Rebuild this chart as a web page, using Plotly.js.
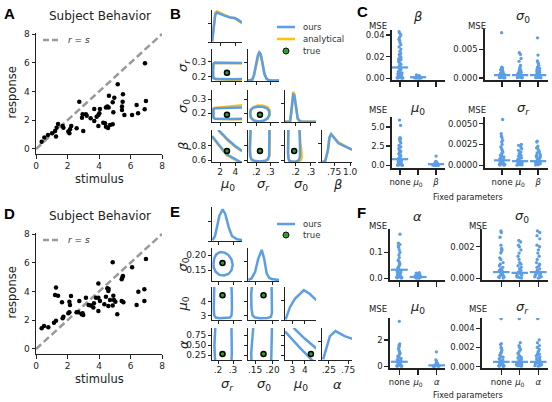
<!DOCTYPE html>
<html><head><meta charset="utf-8">
<script src="https://cdn.plot.ly/plotly-3.0.1.min.js"></script>
<style>html,body{margin:0;padding:0;background:#fff}#chart{width:552px;height:402px}</style>
</head><body><div id="chart"></div>
<script>
// ================= DATA =================
// Panel A: subject behaviour (stimulus, response)
const aStimulus=[6.92,5.19,6.98,4.63,4.97,5.52,5.50,5.46,5.46,5.61,6.10,6.48,6.39,6.90,2.75,4.53,4.61,4.44,4.87,4.91,3.70,4.06,4.02,3.96,3.85,2.96,3.17,2.92,3.22,3.47,3.70,3.96,4.27,4.38,4.44,4.57,4.70,4.87,3.00,2.58,2.24,2.16,2.05,2.12,1.74,1.69,1.40,1.31,1.21,1.27,1.02,0.76,0.53,0.36];
const aResponse=[5.96,4.50,3.34,3.71,3.57,3.81,3.29,2.95,2.71,2.37,2.37,2.48,3.06,2.76,3.29,2.95,2.88,2.88,3.25,2.55,2.78,2.78,2.48,2.37,2.25,2.41,2.41,2.18,2.32,2.13,1.95,1.60,1.83,1.79,1.55,1.46,1.67,1.72,1.25,1.44,1.60,1.37,1.21,1.09,1.48,1.60,1.74,1.48,1.25,0.86,1.09,0.97,0.79,0.51];
// Panel D
const dStimulus=[6.98,4.87,6.10,5.52,5.48,5.44,3.96,4.53,4.61,4.59,6.88,6.50,1.27,1.21,1.40,1.65,2.22,2.12,2.16,2.75,3.17,3.81,3.96,4.06,4.44,4.70,4.91,4.95,5.04,5.44,5.55,6.39,6.88,5.16,3.96,3.64,3.47,3.34,3.68,4.34,4.59,4.87,2.69,2.96,3.00,2.90,2.58,2.12,2.05,1.74,1.69,1.27,1.14,0.78,0.51,0.36];
const dResponse=[6.26,6.03,5.68,5.08,4.97,4.85,4.55,4.22,4.18,4.04,4.15,3.99,4.27,3.76,3.71,3.25,3.69,3.29,3.06,3.34,3.57,3.57,3.57,3.34,3.64,3.41,3.71,3.41,3.29,3.34,3.25,3.06,3.34,2.41,2.64,2.88,3.02,3.06,3.18,3.11,2.99,3.02,2.55,2.48,2.37,2.41,2.55,2.55,2.48,2.25,2.13,1.97,1.83,1.51,1.60,1.44];
const identityX=[0,8], identityY=[0,8];
const behaviorTicks=[0,2,4,6,8];

// Panel B: marginals (ours / analytical)
const bMuX=[0.95,1.14,1.36,1.58,2.0,2.65,3.29,3.94,4.36,4.88];
const bMuOurs=[0.02,0.38,0.88,0.95,0.9,0.84,0.79,0.77,0.71,0.63];
const bMuAnal=[0.02,0.42,0.93,0.99,0.93,0.86,0.8,0.76,0.69,0.6];
const bSrX=[0.141,0.17,0.182,0.194,0.209,0.220,0.23,0.245,0.256,0.27,0.284,0.31,0.36];
const bSrOurs=[0.02,0.04,0.18,0.45,0.81,0.92,0.86,0.52,0.24,0.08,0.03,0.02,0.02];
const bSrAnal=[0.02,0.04,0.17,0.44,0.8,0.93,0.87,0.53,0.24,0.08,0.03,0.02,0.02];
const bS0X=[0.13,0.163,0.17,0.177,0.184,0.191,0.2,0.206,0.213,0.225,0.239,0.337];
const bS0Ours=[0.01,0.02,0.25,0.6,0.88,0.86,0.5,0.25,0.12,0.04,0.01,0.01];
const bS0Anal=[0.01,0.02,0.3,0.7,0.97,0.9,0.48,0.22,0.1,0.03,0.01,0.01];
const bBetaX=[0.567,0.61,0.652,0.677,0.703,0.74,0.817,0.92,1.03];
const bBetaOurs=[0.0,0.03,0.375,0.79,0.9,0.79,0.6,0.5,0.4];
const bBetaAnal=[0.0,0.03,0.36,0.77,0.88,0.81,0.63,0.52,0.39];
// Panel B: contour levels (x, y) for ours / analytical
const bSrMuX=[4.95,3.5,2.0,1.3,1.12,1.08,1.07,1.08,1.12,1.4,2.0,3.5,4.95];
const bSrMuYOurs=[0.29,0.292,0.293,0.292,0.285,0.265,0.235,0.205,0.19,0.184,0.183,0.183,0.184];
const bSrMuYAnal=[0.288,0.291,0.292,0.291,0.284,0.265,0.235,0.205,0.19,0.184,0.182,0.18,0.179];
const bS0MuX=[4.95,3.5,2.0,1.3,1.12,1.08,1.12,1.3,2.0,3.5,4.95];
const bS0MuYOurs=[0.24,0.238,0.236,0.236,0.23,0.2,0.17,0.162,0.16,0.16,0.161];
const bS0MuYAnal=[0.256,0.25,0.24,0.237,0.231,0.2,0.17,0.162,0.16,0.159,0.158];
const bBetaMuX=[1.8,1.87,2.43,2.87,3.94,4.88,null,0.93,1.36,1.78,2.87,3.94,4.88];
const bBetaMuYOurs=[1.03,1.01,0.95,0.90,0.80,0.73,null,0.935,0.87,0.82,0.68,0.61,0.56];
const bBetaMuYAnal=[1.02,1.0,0.94,0.888,0.79,0.718,null,0.925,0.86,0.81,0.67,0.60,0.55];
const bS0SrXOurs=[0.155,0.16,0.18,0.21,0.245,0.275,0.29,0.292,0.28,0.25,0.215,0.18,0.16,0.155];
const bS0SrYOurs=[0.2,0.225,0.24,0.248,0.245,0.235,0.215,0.19,0.165,0.148,0.143,0.15,0.17,0.2];
const bS0SrXAnal=[0.155,0.16,0.18,0.21,0.248,0.28,0.295,0.294,0.28,0.25,0.215,0.18,0.16,0.155];
const bS0SrYAnal=[0.2,0.226,0.243,0.254,0.253,0.242,0.22,0.19,0.165,0.148,0.143,0.15,0.17,0.2];
const bBetaSrXOurs=[0.158,0.155,0.154,0.157,0.167,0.19,0.225,0.26,0.28,0.29,0.292,0.292];
const bBetaSrYOurs=[1.03,0.9,0.75,0.65,0.605,0.585,0.58,0.588,0.61,0.66,0.8,1.03];
const bBetaSrXAnal=[0.156,0.153,0.152,0.155,0.165,0.19,0.225,0.262,0.283,0.293,0.295,0.295];
const bBetaSrYAnal=[1.03,0.9,0.75,0.645,0.6,0.58,0.575,0.583,0.605,0.66,0.8,1.03];
const bBetaS0XOurs=[0.152,0.150,0.150,0.153,0.16,0.18,0.205,0.222,0.228,0.228,0.226,0.225];
const bBetaS0YOurs=[1.03,0.85,0.7,0.62,0.585,0.575,0.58,0.6,0.65,0.8,0.95,1.03];
const bBetaS0XAnal=[0.152,0.150,0.150,0.153,0.16,0.185,0.215,0.235,0.24,0.236,0.23,0.226];
const bBetaS0YAnal=[1.03,0.85,0.7,0.62,0.585,0.572,0.578,0.6,0.65,0.75,0.85,1.03];
const bTrueNames=['mu0','sigr','sig0','beta'];
const bTrueVals=[2.9,0.225,0.19,0.725];

// Panel E: marginals (ours)
const eSrX=[0.164,0.18,0.193,0.209,0.231,0.249,0.271,0.293,0.327,0.364];
const eSrD=[0.03,0.15,0.42,0.76,0.96,0.81,0.42,0.15,0.05,0.03];
const eS0X=[0.131,0.14,0.15,0.159,0.169,0.176,0.183,0.19,0.197,0.218];
const eS0D=[0.03,0.08,0.28,0.69,0.97,0.69,0.24,0.1,0.06,0.03];
const eMuX=[2.48,2.82,3.21,3.61,3.92,4.39,4.92];
const eMuD=[0.02,0.40,0.66,0.81,0.93,0.81,0.61];
const eAlX=[0.10,0.19,0.276,0.42,0.66,0.88];
const eAlD=[0.02,0.41,0.77,0.93,0.77,0.67];
// Panel E: contours
const eS0SrX=[0.17,0.175,0.19,0.215,0.245,0.27,0.29,0.298,0.29,0.27,0.24,0.21,0.185,0.172,0.17];
const eS0SrY=[0.17,0.19,0.203,0.21,0.208,0.2,0.185,0.168,0.15,0.138,0.133,0.135,0.145,0.158,0.17];
const eMuSrX=[0.175,0.172,0.172,0.175,0.185,0.21,0.25,0.28,0.29,0.293,0.292,0.29];
const eMuSrY=[5.1,4.5,3.5,3.0,2.85,2.8,2.8,2.85,3.0,3.5,4.5,5.1];
const eMuS0X=[0.141,0.139,0.14,0.143,0.15,0.165,0.185,0.195,0.198,0.198,0.197];
const eMuS0Y=[5.1,4.5,3.5,3.0,2.85,2.8,2.82,2.9,3.2,4.0,5.1];
const eAlSrX=[0.182,0.178,0.176,0.178,0.181,null,0.29,0.292,0.293,0.292,0.29];
const eAlSrY=[0.95,0.7,0.5,0.3,0.1,null,0.95,0.7,0.5,0.3,0.1];
const eAlS0X=[0.145,0.142,0.14,0.139,0.14,null,0.198,0.198,0.197,0.196,0.196];
const eAlS0Y=[0.95,0.7,0.5,0.3,0.1,null,0.95,0.7,0.5,0.3,0.1];
const eAlMuX=[3.1,3.21,4.0,4.92,null,2.43,2.50,3.5,4.53,4.7];
const eAlMuY=[0.95,0.90,0.66,0.41,null,0.84,0.82,0.47,0.13,0.08];
const eTrueNames=['sigr','sig0','mu0','alpha'];
const eTrueVals=[0.23,0.174,4.47,0.28];

// Panel C: MSE per fitted parameter, by fixed parameter (none, mu0, beta)
const cCategories=['none','<i>μ</i><sub>0</sub>','<i>β</i>'];
const cBetaNone=[0.043,0.0415,0.040,0.038,0.036,0.035,0.033,0.031,0.029,0.027,0.025,0.023,0.022,0.021,0.020,0.019,0.018,0.017,0.016,0.015,0.014,0.013,0.012,0.011,0.010,0.0095,0.009,0.008,0.0075,0.007,0.006,0.0055,0.005,0.0045,0.004,0.0035,0.003,0.0025,0.002,0.0018,0.0015,0.0012,0.001,0.0008,0.0005,0.0003,0.0002,0.0001];
const cBetaMu=[0.003,0.0025,0.002,0.0018,0.0015,0.0012,0.001,0.0009,0.0008,0.0007,0.0006,0.0005,0.0004,0.0003,0.0002,0.0001,0.0005,0.0008];
const cBetaBeta=[];
const cBetaMean=[0.010,0.001,null];
const cSig0None=[0.0079,0.0019,0.0018,0.0017,0.0016,0.0015,0.0014,0.0013,0.0012,0.0011,0.001,0.0009,0.0008,0.0007,0.0007,0.0006,0.0005,0.0005,0.0004,0.0004,0.0003,0.0003,0.0002,0.0002,0.00015,0.0001,0.0001,0.00005,0.00005,0.00002];
const cSig0Mu=[0.0044,0.0041,0.0034,0.0029,0.0022,0.0019,0.0016,0.0014,0.0012,0.0011,0.001,0.0009,0.0008,0.0007,0.0006,0.0005,0.0004,0.0004,0.0003,0.0003,0.0002,0.0002,0.0001,0.0001,0.00005,0.00003];
const cSig0Beta=[0.0070,0.0040,0.0030,0.0027,0.0025,0.0022,0.0019,0.0017,0.0015,0.0013,0.0011,0.001,0.0009,0.0008,0.0007,0.0006,0.0005,0.0004,0.0004,0.0003,0.0002,0.0002,0.0001,0.0001,0.00005,0.00003];
const cSig0Mean=[0.0005,0.0005,0.0005];
const cMuNone=[5.9,5.2,3.6,3.5,3.4,3.3,3.1,2.9,2.6,2.4,2.2,2.0,1.9,1.8,1.7,1.6,1.5,1.4,1.3,1.2,1.1,1.0,0.9,0.8,0.7,0.6,0.5,0.45,0.4,0.35,0.3,0.25,0.2,0.15,0.1,0.08,0.05,0.03,0.02,0.01];
const cMuMu=[];
const cMuBeta=[1.2,0.5,0.45,0.4,0.35,0.3,0.25,0.2,0.15,0.12,0.1,0.08,0.06,0.05,0.04,0.03,0.02,0.01,0.01,0.005];
const cMuMean=[0.8,null,0.15];
const cSigrNone=[0.0055,0.0038,0.0035,0.0033,0.003,0.0028,0.0025,0.0022,0.002,0.0018,0.0016,0.0015,0.0013,0.0012,0.0011,0.001,0.0009,0.0008,0.0007,0.0006,0.0005,0.0004,0.0004,0.0003,0.0003,0.0002,0.0002,0.0001,0.0001,0.00005,0.00002];
const cSigrMu=[0.0025,0.0024,0.0022,0.002,0.0018,0.0016,0.0015,0.0014,0.0012,0.0011,0.001,0.0009,0.0008,0.0007,0.0006,0.0005,0.0004,0.0004,0.0003,0.0003,0.0002,0.0002,0.0001,0.0001,0.00005,0.00002];
const cSigrBeta=[0.0029,0.0028,0.0023,0.0021,0.002,0.0018,0.0016,0.0015,0.0013,0.0012,0.0011,0.001,0.0009,0.0008,0.0007,0.0006,0.0005,0.0004,0.0004,0.0003,0.0003,0.0002,0.0002,0.0001,0.0001,0.00005];
const cSigrMean=[0.0006,0.0005,0.0005];

// Panel F: (none, mu0, alpha)
const fCategories=['none','<i>μ</i><sub>0</sub>','<i>α</i>'];
const fAlNone=[0.17,0.135,0.13,0.125,0.12,0.11,0.1,0.09,0.08,0.07,0.065,0.06,0.055,0.05,0.045,0.04,0.035,0.03,0.028,0.025,0.022,0.02,0.018,0.015,0.012,0.01,0.008,0.006,0.005,0.004,0.003,0.002,0.001];
const fAlMu=[0.022,0.02,0.018,0.015,0.012,0.01,0.009,0.008,0.007,0.006,0.005,0.004,0.003,0.002,0.001,0.0005];
const fAlAl=[];
const fAlMean=[0.033,0.005,null];
const fSig0None=[0.003,0.0029,0.0026,0.0021,0.0019,0.0018,0.0017,0.0016,0.0013,0.0012,0.001,0.0009,0.0008,0.0007,0.0006,0.0005,0.0005,0.0004,0.0003,0.0003,0.0002,0.0002,0.0001,0.0001,0.00005,0.00002];
const fSig0Mu=[0.0024,0.0023,0.0021,0.002,0.0018,0.0016,0.0014,0.0012,0.001,0.0009,0.0008,0.0007,0.0006,0.0005,0.0004,0.0004,0.0003,0.0003,0.0002,0.0002,0.0001,0.0001,0.00005,0.00002];
const fSig0Al=[0.003,0.0029,0.0027,0.0025,0.0021,0.002,0.0018,0.0016,0.0014,0.0012,0.001,0.0009,0.0008,0.0007,0.0006,0.0005,0.0004,0.0004,0.0003,0.0003,0.0002,0.0002,0.0001,0.0001,0.00005,0.00002];
const fSig0Mean=[0.0004,0.00035,0.0004];
const fMuNone=[3.4,1.7,1.6,1.5,1.35,1.2,1.1,1.0,0.9,0.8,0.75,0.7,0.6,0.55,0.5,0.45,0.4,0.35,0.3,0.25,0.2,0.15,0.1,0.08,0.05,0.03,0.02,0.01];
const fMuMu=[];
const fMuAl=[1.1,0.5,0.4,0.3,0.25,0.2,0.15,0.12,0.1,0.08,0.06,0.05,0.04,0.03,0.02,0.01,0.005];
const fMuMean=[0.35,null,0.08];
const fSigrNone=[0.005,0.0024,0.0023,0.002,0.0019,0.0017,0.0015,0.0014,0.0012,0.0011,0.001,0.0009,0.0008,0.0007,0.0006,0.0005,0.0004,0.0004,0.0003,0.0003,0.0002,0.0002,0.0001,0.0001,0.00005,0.00002];
const fSigrMu=[0.005,0.0025,0.0022,0.002,0.0018,0.0016,0.0014,0.0012,0.0011,0.001,0.0009,0.0008,0.0007,0.0006,0.0005,0.0004,0.0004,0.0003,0.0003,0.0002,0.0002,0.0001,0.0001,0.00005];
const fSigrAl=[0.005,0.0028,0.0025,0.0022,0.002,0.0018,0.0016,0.0014,0.0013,0.0012,0.0011,0.001,0.0009,0.0008,0.0007,0.0006,0.0005,0.0004,0.0004,0.0003,0.0003,0.0002,0.0002,0.0001,0.0001,0.00005];
const fSigrMean=[0.0005,0.0005,0.0005];

// ================= BUILD =================
const W=552,H=402;
const FONT='"DejaVu Sans", sans-serif';
const BLUE='#5c9ee6', YELLOW='#ffc20a', GREEN='#2ca02c';
const traces=[];
const layout={width:W,height:H,margin:{l:0,r:0,t:0,b:0,pad:0},paper_bgcolor:'#fff',plot_bgcolor:'rgba(0,0,0,0)',
  showlegend:false,font:{family:FONT,size:9,color:'#222'},annotations:[],shapes:[],hovermode:false};
let nAx=0;
function sub(box,xr,yr,xo,yo){
  nAx++;
  const s=nAx===1?'':String(nAx);
  const base={showline:true,linecolor:'#222',linewidth:1,ticks:'outside',ticklen:3.5,tickwidth:1,tickcolor:'#222',tickangle:0,
    showgrid:false,zeroline:false,tickfont:{size:9,color:'#222',family:FONT},fixedrange:true,tickmode:'array'};
  layout['xaxis'+s]=Object.assign({},base,{domain:[box[0]/W,box[1]/W],range:xr,anchor:'y'+s},xo||{});
  layout['yaxis'+s]=Object.assign({},base,{domain:[1-box[3]/H,1-box[2]/H],range:yr,anchor:'x'+s},yo||{});
  return {xaxis:'x'+s,yaxis:'y'+s};
}
function ann(text,px,py,o){
  layout.annotations.push(Object.assign({text:text,xref:'paper',yref:'paper',x:px/W,y:1-py/H,xanchor:'center',yanchor:'middle',
    showarrow:false,font:{family:FONT,size:11,color:'#222'}},o||{}));
}
function line(ref,x,y,color,width,dash){
  traces.push(Object.assign({type:'scatter',mode:'lines',x:x,y:y,line:{color:color,width:width,dash:dash||'solid'},hoverinfo:'skip',showlegend:false},ref));
}
function dot(ref,x,y){
  traces.push(Object.assign({type:'scatter',mode:'markers',x:[x],y:[y],marker:{color:GREEN,size:5,line:{color:'#000',width:1.5}},hoverinfo:'skip',showlegend:false},ref));
}

// ---- Panels A & D ----
function behavior(dy,stim,resp,letter){
  const ref=sub([36,162,33+dy,154+dy],[0,8],[-0.35,8.07],{tickvals:behaviorTicks},{tickvals:behaviorTicks});
  line(ref,identityX,identityY,'#999',2.5,'7px,3.5px');
  traces.push(Object.assign({type:'scatter',mode:'markers',x:stim,y:resp,marker:{color:'#000',size:4.5},hoverinfo:'skip',showlegend:false},ref));
  ann('Subject Behavior',100,16+dy,{font:{family:FONT,size:12,color:'#222'}});
  ann('response',11.5,93+dy,{textangle:-90,font:{family:FONT,size:11.5,color:'#222'}});
  ann('stimulus',99,179+dy,{font:{family:FONT,size:11.5,color:'#222'}});
  ann('<b>'+letter+'</b>',9,13+dy,{font:{family:'"Liberation Sans", Arial, sans-serif',size:15,color:'#000'}});
  layout.shapes.push({type:'line',xref:'paper',yref:'paper',x0:43/W,x1:61/W,y0:1-(40+dy)/H,y1:1-(40+dy)/H,line:{color:'#999',width:2.5,dash:'6px,3px'}});
  ann('<i>r</i> = <i>s</i>',66,40+dy,{xanchor:'left',font:{family:FONT,size:9,color:'#333'}});
}
behavior(0,aStimulus,aResponse,'A');
behavior(200,dStimulus,dResponse,'D');

// ---- Corner plots B & E ----
const colX=[[212,242],[248,279],[285,316],[322,352]];
function corner(rowsY,vars,diag,contours,trueNames,trueVals,showAnal){
  for(let i=0;i<4;i++){
    for(let j=0;j<=i;j++){
      const vx=vars[j], vy=vars[i];
      const box=[colX[j][0],colX[j][1],rowsY[i][0],rowsY[i][1]];
      const xo={tickvals:vx.tv,ticktext:vx.tt,showticklabels:i===3,ticklen:3,ticklabelstandoff:-2};
      let yr,yo;
      if(i===j){yr=[0,1.03];yo={tickvals:[0,0.6],showticklabels:false,ticklen:3};}
      else{yr=vy.yr;yo={tickvals:vy.ytv,ticktext:vy.ytt,showticklabels:j===0,ticklen:3};}
      const ref=sub(box,vx.xr,yr,xo,yo);
      if(i===j){
        const d=diag[i];
        if(showAnal) line(ref,d.x,d.anal,YELLOW,2.5);
        line(ref,d.x,d.ours,BLUE,2.5);
      }else{
        const c=contours[i+'-'+j];
        if(showAnal&&c.ax) line(ref,c.ax,c.ay,YELLOW,2.5);
        line(ref,c.x,c.y,BLUE,2.5);
        dot(ref,trueVals[trueNames.indexOf(vx.name)],trueVals[trueNames.indexOf(vy.name)]);
      }
    }
  }
}
const bVars=[
  {name:'mu0',xr:[0.93,4.88],tv:[2,4],tt:['2','4']},
  {name:'sigr',xr:[0.14,0.36],tv:[0.2,0.3],tt:['.2','.3'],yr:[0.171,0.382],ytv:[0.2,0.3],ytt:['0.2','0.3']},
  {name:'sig0',xr:[0.13,0.333],tv:[0.2,0.3],tt:['.2','.3'],yr:[0.139,0.363],ytv:[0.2,0.3],ytt:['0.2','0.3']},
  {name:'beta',xr:[0.56,1.03],tv:[0.75,1.0],tt:['.75','1.0'],yr:[0.572,1.02],ytv:[0.6,0.8],ytt:['0.6','0.8']}];
corner([[10,42],[49,81],[90,122],[130,162]],bVars,
  [{x:bMuX,ours:bMuOurs,anal:bMuAnal},{x:bSrX,ours:bSrOurs,anal:bSrAnal},{x:bS0X,ours:bS0Ours,anal:bS0Anal},{x:bBetaX,ours:bBetaOurs,anal:bBetaAnal}],
  {'1-0':{x:bSrMuX,y:bSrMuYOurs,ax:bSrMuX,ay:bSrMuYAnal},
   '2-0':{x:bS0MuX,y:bS0MuYOurs,ax:bS0MuX,ay:bS0MuYAnal},
   '3-0':{x:bBetaMuX,y:bBetaMuYOurs,ax:bBetaMuX,ay:bBetaMuYAnal},
   '2-1':{x:bS0SrXOurs,y:bS0SrYOurs,ax:bS0SrXAnal,ay:bS0SrYAnal},
   '3-1':{x:bBetaSrXOurs,y:bBetaSrYOurs,ax:bBetaSrXAnal,ay:bBetaSrYAnal},
   '3-2':{x:bBetaS0XOurs,y:bBetaS0YOurs,ax:bBetaS0XAnal,ay:bBetaS0YAnal}},
  bTrueNames,bTrueVals,true);
const eVars=[
  {name:'sigr',xr:[0.16,0.36],tv:[0.2,0.3],tt:['.2','.3']},
  {name:'sig0',xr:[0.13,0.218],tv:[0.15,0.2],tt:['.15','.20'],yr:[0.115,0.223],ytv:[0.15,0.2],ytt:['0.15','0.20']},
  {name:'mu0',xr:[2.43,4.87],tv:[3,4],tt:['3','4'],yr:[2.67,5.07],ytv:[3,4],ytt:['3','4']},
  {name:'alpha',xr:[0.07,0.85],tv:[0.25,0.75],tt:['.25','.75'],yr:[0.13,0.93],ytv:[0.25,0.5,0.75],ytt:['0.25','0.50','0.75']}];
corner([[207,241],[248,281],[287,320],[328,360]],eVars,
  [{x:eSrX,ours:eSrD},{x:eS0X,ours:eS0D},{x:eMuX,ours:eMuD},{x:eAlX,ours:eAlD}],
  {'1-0':{x:eS0SrX,y:eS0SrY},'2-0':{x:eMuSrX,y:eMuSrY},'3-0':{x:eAlSrX,y:eAlSrY},
   '2-1':{x:eMuS0X,y:eMuS0Y},'3-1':{x:eAlS0X,y:eAlS0Y},'3-2':{x:eAlMuX,y:eAlMuY}},
  eTrueNames,eTrueVals,false);

const GF={family:FONT,size:13,color:'#222'};
[['<i>μ</i><sub>0</sub>',227],['<i>σ</i><sub><i>r</i></sub>',263.5],['<i>σ</i><sub>0</sub>',300.5],['<i>β</i>',337]].forEach(t=>ann(t[0],t[1],185,{font:GF}));
[['<i>σ</i><sub><i>r</i></sub>',65],['<i>σ</i><sub>0</sub>',106],['<i>β</i>',146]].forEach(t=>ann(t[0],183,t[1],{font:GF,textangle:-90}));
[['<i>σ</i><sub><i>r</i></sub>',227],['<i>σ</i><sub>0</sub>',263.5],['<i>μ</i><sub>0</sub>',300.5],['<i>α</i>',337]].forEach(t=>ann(t[0],t[1],384,{font:GF}));
[['<i>σ</i><sub>0</sub>',264.5],['<i>μ</i><sub>0</sub>',303.5],['<i>α</i>',344]].forEach(t=>ann(t[0],183,t[1],{font:GF,textangle:-90}));
ann('<b>B</b>',176,13,{font:{family:'"Liberation Sans", Arial, sans-serif',size:15,color:'#000'}});
ann('<b>E</b>',175,211,{font:{family:'"Liberation Sans", Arial, sans-serif',size:15,color:'#000'}});
// legends B / E
function legLine(x0,x1,py,color){layout.shapes.push({type:'line',xref:'paper',yref:'paper',x0:x0/W,x1:x1/W,y0:1-py/H,y1:1-py/H,line:{color:color,width:2.5}});}
function legDot(px,py){layout.shapes.push({type:'circle',xref:'paper',yref:'paper',xsizemode:'pixel',ysizemode:'pixel',xanchor:px/W,yanchor:1-py/H,x0:-3,x1:3,y0:-3,y1:3,fillcolor:GREEN,line:{color:'#111',width:1}});}
const LF={family:FONT,size:8.5,color:'#333'};
legLine(277,295,27,BLUE); ann('ours',301,27,{xanchor:'left',font:LF});
legLine(277,295,39,YELLOW); ann('analytical',301,39,{xanchor:'left',font:LF});
legDot(286,51); ann('true',301,51,{xanchor:'left',font:LF});
legLine(277,295,224,BLUE); ann('ours',301,224,{xanchor:'left',font:LF});
legDot(286,235); ann('true',301,235,{xanchor:'left',font:LF});

// ---- Strip panels C & F ----
function strip(box,xr,yr,ytv,ytt,groups,means,cats,showCats,title,titleX,titleY,mseX){
  const ref=sub(box,xr,yr,
    {tickvals:[0,1,2],ticktext:cats,showticklabels:showCats,ticklen:5,linewidth:1.6,tickwidth:1.4,tickfont:{size:8.5,color:'#222',family:FONT}},
    {tickvals:ytv,ticktext:ytt,ticklen:4,linewidth:1.6,tickwidth:1.4,tickfont:{size:8.5,color:'#222',family:FONT}});
  const xs=[],ys=[];
  groups.forEach((g,i)=>g.forEach(v=>{xs.push(i);ys.push(v);}));
  traces.push(Object.assign({type:'box',x:xs,y:ys,boxpoints:'all',jitter:0.8,pointpos:0,width:0.5,
    fillcolor:'rgba(0,0,0,0)',line:{width:0,color:'rgba(0,0,0,0)'},whiskerwidth:0,
    marker:{color:BLUE,size:3.3},hoverinfo:'skip',showlegend:false},ref));
  const mx=[],my=[];
  means.forEach((m,i)=>{if(m!==null){mx.push(i-0.45,i+0.45,null);my.push(m,m,null);}});
  line(ref,mx,my,BLUE,2.2);
  ann(title,titleX,titleY,{font:{family:FONT,size:13,color:'#222'}});
  ann('MSE',mseX,titleY+(showCats?2:10),{font:{family:FONT,size:8.5,color:'#222'}});
}
strip([392,445,30,80],[-0.45,2.5],[-0.0016,0.0446],[0,0.02,0.04],['0.00','0.02','0.04'],[cBetaNone,cBetaMu,cBetaBeta],cBetaMean,cCategories,false,'<i>β</i>',417,16,378);
strip([485,548,29,80],[-0.95,2.55],[-0.00035,0.00854],[0,0.005],['0.000','0.005'],[cSig0None,cSig0Mu,cSig0Beta],cSig0Mean,cCategories,false,'<i>σ</i><sub>0</sub>',523,16,477);
strip([392,445,117,168],[-0.45,2.5],[-0.35,6.3],[0,2.5,5],['0.0','2.5','5.0'],[cMuNone,cMuMu,cMuBeta],cMuMean,cCategories,true,'<i>μ</i><sub>0</sub>',417,108,378);
strip([485,548,117,168],[-0.95,2.55],[-0.00032,0.0058],[0,0.0025,0.005],['0.0000','0.0025','0.0050'],[cSigrNone,cSigrMu,cSigrBeta],cSigrMean,cCategories,true,'<i>σ</i><sub><i>r</i></sub>',523,108,477);
ann('Fixed parameters',468,197,{font:{family:FONT,size:8,color:'#222'}});
ann('<b>C</b>',362,12,{font:{family:'"Liberation Sans", Arial, sans-serif',size:15,color:'#000'}});

strip([390,445,229,280],[-0.5,2.44],[-0.0065,0.19],[0,0.1],['0.0','0.1'],[fAlNone,fAlMu,fAlAl],fAlMean,fCategories,false,'<i>α</i>',417,216,378);
strip([482,548,229,280],[-1.05,2.53],[-0.0001,0.00312],[0,0.002],['0.000','0.002'],[fSig0None,fSig0Mu,fSig0Al],fSig0Mean,fCategories,false,'<i>σ</i><sub>0</sub>',522,216,478);
strip([390,445,318,368],[-0.5,2.44],[-0.12,3.65],[0,2],['0','2'],[fMuNone,fMuMu,fMuAl],fMuMean,fCategories,true,'<i>μ</i><sub>0</sub>',417,307,378);
strip([482,548,318,368],[-1.05,2.53],[-0.00014,0.00507],[0,0.002,0.004],['0.000','0.002','0.004'],[fSigrNone,fSigrMu,fSigrAl],fSigrMean,fCategories,true,'<i>σ</i><sub><i>r</i></sub>',522,307,478);
ann('Fixed parameters',468,395,{font:{family:FONT,size:8,color:'#222'}});
ann('<b>F</b>',361,212,{font:{family:'"Liberation Sans", Arial, sans-serif',size:15,color:'#000'}});

Plotly.newPlot('chart',traces,layout,{staticPlot:true,displayModeBar:false});
</script></body></html>
